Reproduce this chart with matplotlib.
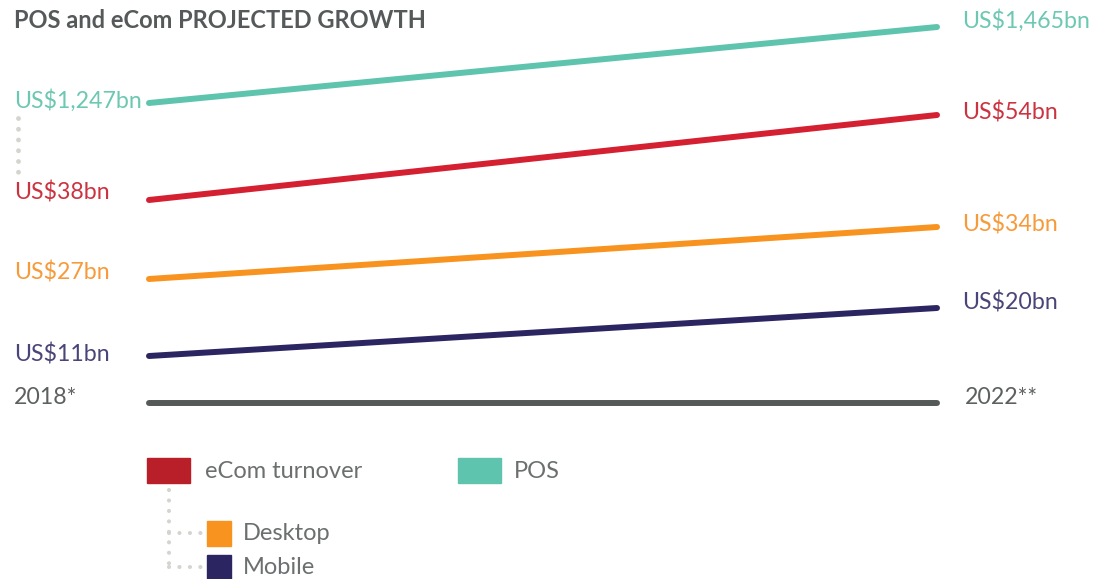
import matplotlib.pyplot as plt
from matplotlib.patches import Rectangle

# datos
series = ['POS', 'eCom turnover', 'Desktop', 'Mobile']
val_2018 = [1247, 38, 27, 11]
val_2022 = [1465, 54, 34, 20]
years = ['2018*', '2022**']
colores = ['#5fc4ad', '#d42030', '#f7931e', '#2b2562']
col_txt = ['#6cc8b2', '#cc3340', '#f79a3a', '#4a4578']

# layout (pixeles)
W, H = 1113, 579
x0, x1 = 149, 937
y_ini = [103, 200, 279, 356]
y_fin = [27, 115, 227, 308]
lab_ini = [101, 193, 272, 354]
lab_fin = [21, 112, 225, 302]
y_eje = 403

fuente = 'Lato'
peso = 'normal'
fig = plt.figure(figsize=(W/100, H/100), dpi=100)
ax = fig.add_axes([0, 0, 1, 1])
ax.set_xlim(0, W)
ax.set_ylim(H, 0)
ax.axis('off')

ax.text(14, 20, 'POS and eCom PROJECTED GROWTH', fontsize=17, fontweight='bold',
        color='#55595a', va='center', family=fuente)

for i in range(len(series)):
    ax.plot([x0, x1], [y_ini[i], y_fin[i]], color=colores[i], lw=4.3, solid_capstyle='round')
    ax.text(14, lab_ini[i], 'US$' + format(val_2018[i], ',') + 'bn', fontsize=16.7, color=col_txt[i],
            va='center', family=fuente, fontweight=peso)
    ax.text(962, lab_fin[i], 'US$' + format(val_2022[i], ',') + 'bn', fontsize=16.7, color=col_txt[i],
            va='center', family=fuente, fontweight=peso)

# eje de años
ax.plot([x0, x1], [y_eje, y_eje], color='#555a58', lw=4.3, solid_capstyle='round')
ax.text(14, 398, years[0], fontsize=16.7, color='#5c605f', va='center', family=fuente, fontweight=peso)
ax.text(965, 397, years[1], fontsize=16.7, color='#5c605f', va='center', family=fuente, fontweight=peso)

gris = '#d5d5d0'
ax.plot([18, 18], [118, 172], color=gris, lw=3.5, ls=(0, (0.01, 2.2)), dash_capstyle='round')

# leyenda
txt_ley = '#6b6f6f'
ax.add_patch(Rectangle((147, 458), 43, 25, color='#b81f29'))
ax.text(205, 471, 'eCom turnover', fontsize=17, color=txt_ley, va='center', family=fuente, fontweight=peso)
ax.add_patch(Rectangle((458, 458), 43, 25, color='#5fc4ad'))
ax.text(514, 471, 'POS', fontsize=17, color=txt_ley, va='center', family=fuente, fontweight=peso)

ax.plot([169, 169], [490, 568], color=gris, lw=3, ls=(0, (0.01, 2.5)), dash_capstyle='round')
ax.plot([169, 203], [533, 533], color=gris, lw=3, ls=(0, (0.01, 2.5)), dash_capstyle='round')
ax.plot([169, 203], [567, 567], color=gris, lw=3, ls=(0, (0.01, 2.5)), dash_capstyle='round')
ax.add_patch(Rectangle((207, 521), 24, 25, color='#f7931e'))
ax.text(243, 534, 'Desktop', fontsize=17, color=txt_ley, va='center', family=fuente, fontweight=peso)
ax.add_patch(Rectangle((207, 555), 24, 25, color='#2b2562'))
ax.text(243, 567, 'Mobile', fontsize=17, color=txt_ley, va='center', family=fuente, fontweight=peso)

fig.savefig('out.png', dpi=100)
